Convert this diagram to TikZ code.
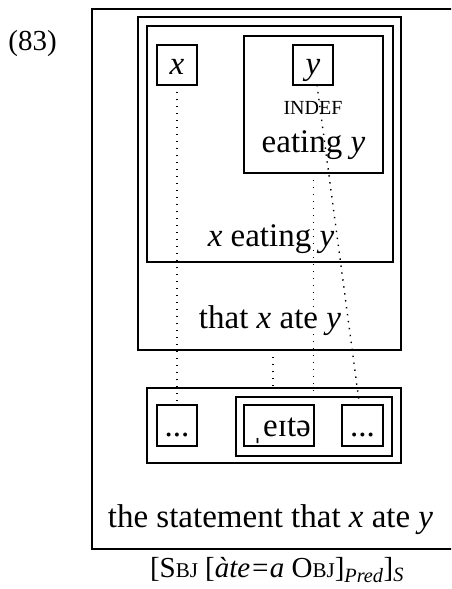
\documentclass[tikz,border=0pt]{standalone}
\usepackage{fontspec}
\setmainfont{Liberation Serif}
\usetikzlibrary{calc}
% faked small capitals: reduced upper-case letters
\newcommand\lowcaps[2]{{\fontsize{#1}{#1}\selectfont #2}}
\begin{document}
\begin{tikzpicture}[x=1pt,y=-1pt,
  frame/.style={draw, line width=1.2pt, inner sep=0pt, outer sep=0pt},
  link/.style={line width=1.4pt, dash pattern=on 1.4pt off 5.6pt},
  txt/.style={font=\fontsize{33}{38}\selectfont, anchor=base, inner sep=0pt}]
\clip (0,0) rectangle (451,589);

% example number
\node[txt, font=\fontsize{29}{34}\selectfont] (num) at (32.5,50) {(83)};

% outer frame (runs past the right margin)
\node[frame, minimum width=378pt, minimum height=540pt] (outer) at (281,279) {};

% upper structure
\node[frame, minimum width=263pt, minimum height=333pt] (thatbox) at (269.5,183.5) {};
\node[frame, minimum width=246pt, minimum height=236pt] (xeat) at (270,144) {};
\node[frame, minimum width=139pt, minimum height=137pt] (eatbox) at (313.5,104.5) {};
\node[frame, minimum width=40pt, minimum height=40pt] (xbox) at (177,65) {};
\node[frame, minimum width=40pt, minimum height=40pt] (ybox) at (313,65) {};

\node[txt] (xlab) at (177,74) {\textit{x}};
\node[txt] (ylab) at (313,74) {\textit{y}};
\node[txt, font=\fontsize{20}{24}\selectfont] (indef) at (313,114) {INDEF};
\node[txt] (eating) at (313.5,152) {eating \textit{y}};
\node[txt] (xeating) at (271,246) {\textit{x} eating \textit{y}};
\node[txt] (that) at (270,328) {that \textit{x} ate \textit{y}};

% lower structure
\node[frame, minimum width=254pt, minimum height=75pt] (bigbox) at (274,425.5) {};
\node[frame, minimum width=156pt, minimum height=59pt] (predbox) at (314,426.5) {};
\node[frame, minimum width=40pt, minimum height=41pt] (dots1) at (177,425.5) {};
\node[frame, minimum width=70pt, minimum height=41pt] (verb) at (279,425.5) {};
\node[frame, minimum width=41pt, minimum height=41pt] (dots2) at (362.5,425.5) {};

\node[txt] (d1) at (177,436) {...};
\node[txt] (vlab) at (281.5,436) {ˌeɪtə};
\node[txt] (d2) at (362.5,436) {...};

% dotted correspondences
\draw[link] (xbox.south) -- (dots1.north);
\draw[link] ($(ybox.south)+(4,0)$) -- ($(dots2.north)+(-3,0)$);
\draw[link] (eatbox.south) -- (eatbox.south |- predbox.north);
\draw[link] ($(thatbox.south)+(3.5,0)$) coordinate (tfoot) -- (tfoot |- bigbox.north);

% bottom texts
\node[txt] (statement) at (270.5,527) {the statement that \textit{x} ate \textit{y}};
\node[txt, font=\fontsize{29}{33}\selectfont] (caption) at (277,577)
  {[S\lowcaps{21}{BJ} [\textit{àte=a} O\lowcaps{21}{BJ}]\textsubscript{\textit{Pred}}]\textsubscript{\textit{S}}};
\end{tikzpicture}
\end{document}
